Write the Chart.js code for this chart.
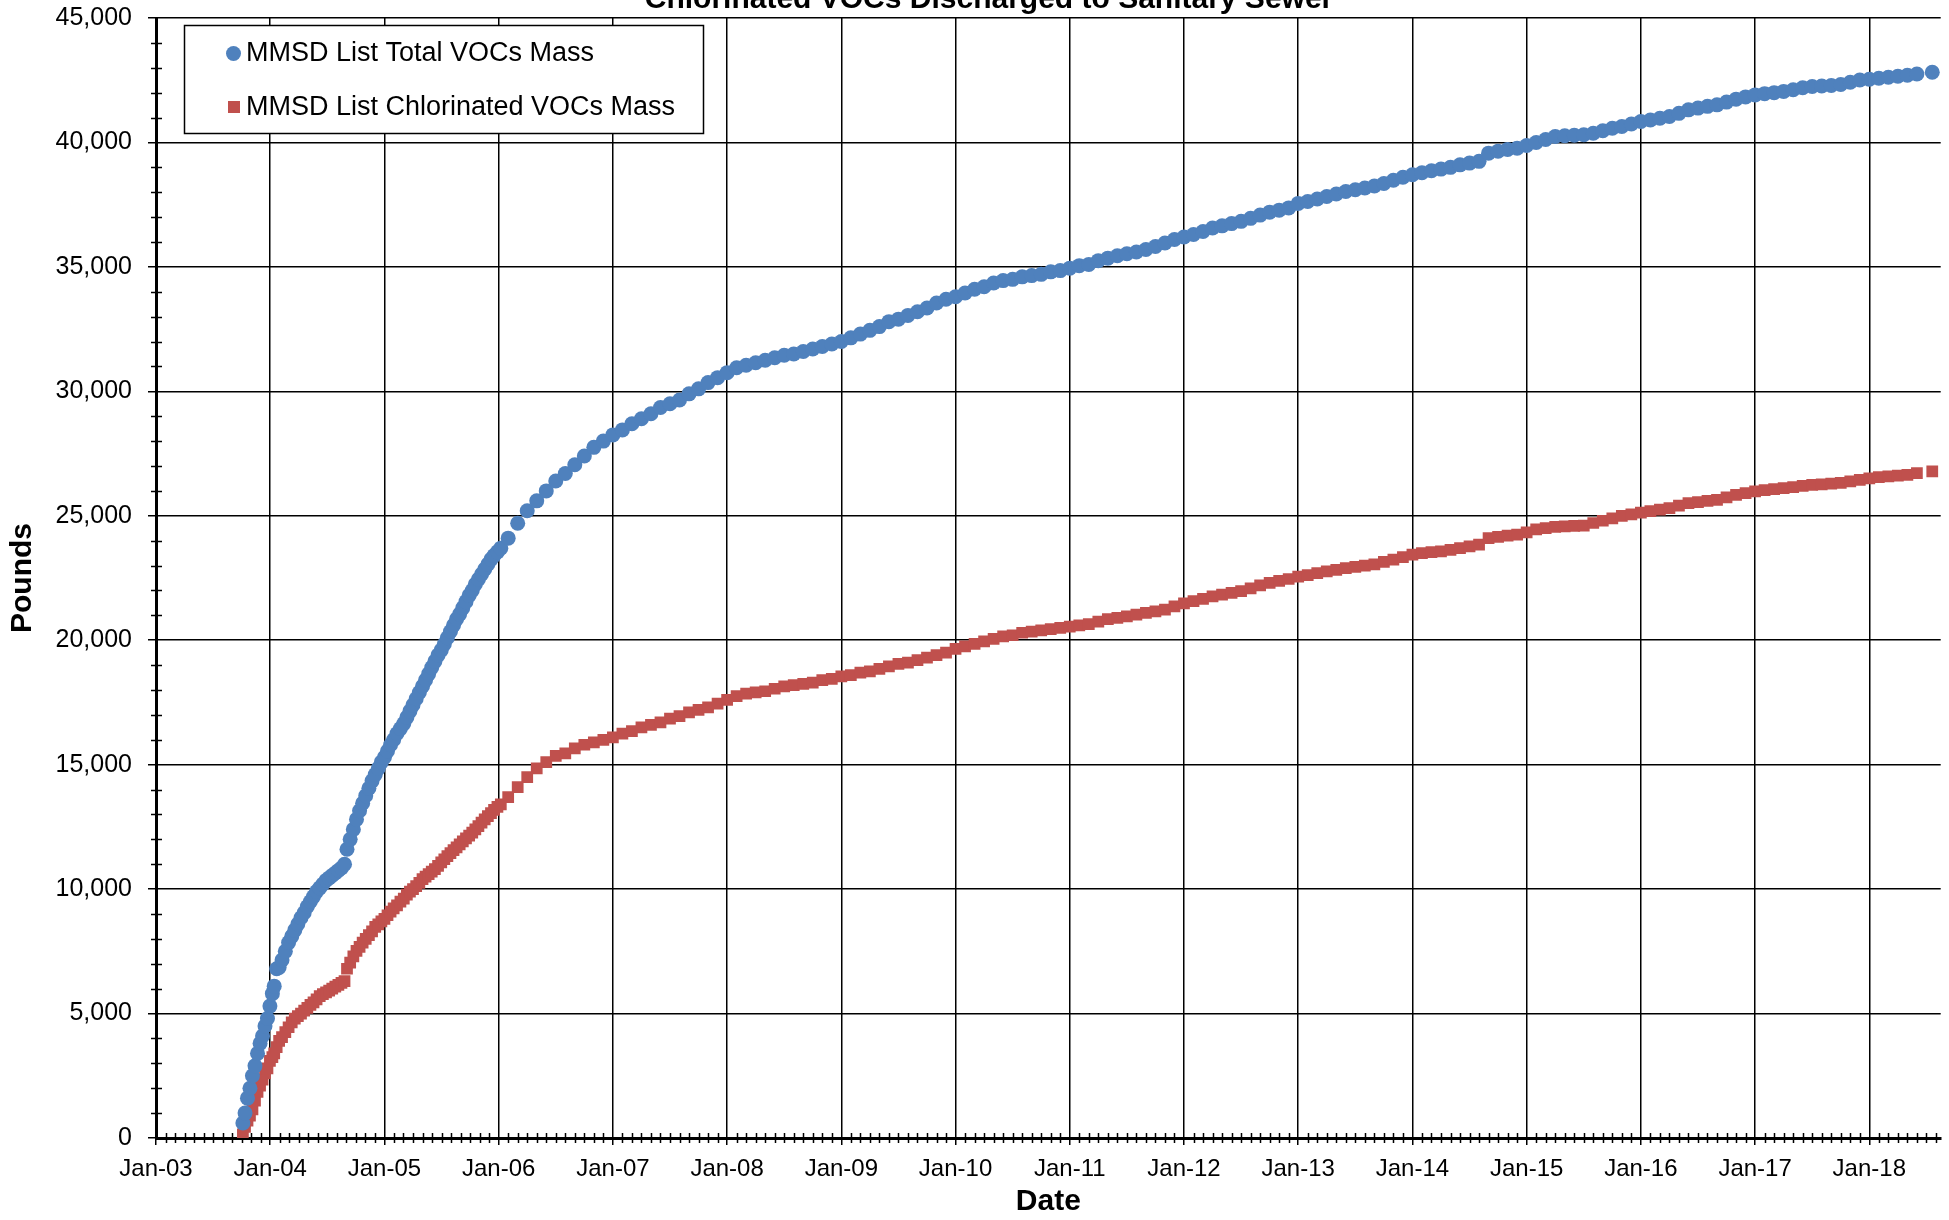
<!DOCTYPE html>
<html lang="en">
  <head>
    <meta charset="UTF-8" />
    <title>Chlorinated VOCs Discharged to Sanitary Sewer</title>
    <script src="https://cdn.jsdelivr.net/npm/chart.js"></script>
    <style>
      html, body { margin: 0; padding: 0; background: #ffffff; }
      #wrap { width: 1949px; height: 1220px; position: relative; }
    </style>
  </head>
  <body>
    <div id="wrap"><canvas id="vocChart"></canvas></div>

    <script>
      // sample dates (dense early, monthly later)
      const sampleDates = [
        "2003-10-05", "2003-10-12", "2003-10-20", "2003-10-28", "2003-11-05", "2003-11-13", "2003-11-21", "2003-11-29", "2003-12-07", "2003-12-15", "2003-12-23", "2003-12-31",
        "2004-01-08", "2004-01-14", "2004-01-22", "2004-01-30", "2004-02-08", "2004-02-18", "2004-02-28", "2004-03-09", "2004-03-19", "2004-03-29",
        "2004-04-08", "2004-04-18", "2004-04-28", "2004-05-08", "2004-05-18", "2004-05-28", "2004-06-07", "2004-06-17", "2004-06-27", "2004-07-07",
        "2004-07-17", "2004-07-27", "2004-08-06", "2004-08-16", "2004-08-26", "2004-09-03", "2004-09-13", "2004-09-23", "2004-10-03", "2004-10-13",
        "2004-10-23", "2004-11-02", "2004-11-12", "2004-11-22", "2004-12-02", "2004-12-12", "2004-12-22",
        "2005-01-01", "2005-01-11", "2005-01-21", "2005-01-31", "2005-02-10", "2005-02-20", "2005-03-02", "2005-03-12", "2005-03-22", "2005-04-01",
        "2005-04-11", "2005-04-21", "2005-05-01", "2005-05-11", "2005-05-21", "2005-05-31", "2005-06-10", "2005-06-20", "2005-06-30", "2005-07-10",
        "2005-07-20", "2005-07-30", "2005-08-09", "2005-08-19", "2005-08-29", "2005-09-08", "2005-09-18", "2005-09-28", "2005-10-08", "2005-10-18",
        "2005-10-28", "2005-11-07", "2005-11-17", "2005-11-27", "2005-12-07", "2005-12-17", "2005-12-28",
        "2006-01-08", "2006-02-01", "2006-03-01", "2006-04-01", "2006-05-01", "2006-06-01", "2006-07-01", "2006-08-01", "2006-09-01", "2006-10-01", "2006-11-01", "2006-12-01",
        "2007-01-01", "2007-02-01", "2007-03-01", "2007-04-01", "2007-05-01", "2007-06-01", "2007-07-01", "2007-08-01", "2007-09-01", "2007-10-01", "2007-11-01", "2007-12-01",
        "2008-01-01", "2008-02-01", "2008-03-01", "2008-04-01", "2008-05-01", "2008-06-01", "2008-07-01", "2008-08-01", "2008-09-01", "2008-10-01", "2008-11-01", "2008-12-01",
        "2009-01-01", "2009-02-01", "2009-03-01", "2009-04-01", "2009-05-01", "2009-06-01", "2009-07-01", "2009-08-01", "2009-09-01", "2009-10-01", "2009-11-01", "2009-12-01",
        "2010-01-01", "2010-02-01", "2010-03-01", "2010-04-01", "2010-05-01", "2010-06-01", "2010-07-01", "2010-08-01", "2010-09-01", "2010-10-01", "2010-11-01", "2010-12-01",
        "2011-01-01", "2011-02-01", "2011-03-01", "2011-04-01", "2011-05-01", "2011-06-01", "2011-07-01", "2011-08-01", "2011-09-01", "2011-10-01", "2011-11-01", "2011-12-01",
        "2012-01-01", "2012-02-01", "2012-03-01", "2012-04-01", "2012-05-01", "2012-06-01", "2012-07-01", "2012-08-01", "2012-09-01", "2012-10-01", "2012-11-01", "2012-12-01",
        "2013-01-01", "2013-02-01", "2013-03-01", "2013-04-01", "2013-05-01", "2013-06-01", "2013-07-01", "2013-08-01", "2013-09-01", "2013-10-01", "2013-11-01", "2013-12-01",
        "2014-01-01", "2014-02-01", "2014-03-01", "2014-04-01", "2014-05-01", "2014-06-01", "2014-07-01", "2014-08-01", "2014-09-01", "2014-10-01", "2014-11-01", "2014-12-01",
        "2015-01-01", "2015-02-01", "2015-03-01", "2015-04-01", "2015-05-01", "2015-06-01", "2015-07-01", "2015-08-01", "2015-09-01", "2015-10-01", "2015-11-01", "2015-12-01",
        "2016-01-01", "2016-02-01", "2016-03-01", "2016-04-01", "2016-05-01", "2016-06-01", "2016-07-01", "2016-08-01", "2016-09-01", "2016-10-01", "2016-11-01", "2016-12-01",
        "2017-01-01", "2017-02-01", "2017-03-01", "2017-04-01", "2017-05-01", "2017-06-01", "2017-07-01", "2017-08-01", "2017-09-01", "2017-10-01", "2017-11-01", "2017-12-01",
        "2018-01-01", "2018-02-01", "2018-03-01", "2018-04-01", "2018-05-01", "2018-06-01", "2018-07-20"
      ];

      // cumulative pounds, MMSD list total VOCs
      const totalVOCs = [
        600, 1000, 1600, 2000, 2500, 2900, 3400, 3800, 4100, 4500, 4800, 5300,
        5800, 6100, 6800, 6850, 7150, 7500, 7850, 8100, 8350, 8600,
        8850, 9050, 9300, 9500, 9700, 9900, 10050, 10200, 10350, 10450,
        10550, 10650, 10750, 10850, 11000, 11600, 12000, 12400, 12800, 13150,
        13450, 13750, 14050, 14350, 14600, 14850, 15100,
        15300, 15550, 15800, 16000, 16250, 16450, 16650, 16900, 17150, 17400,
        17650, 17900, 18150, 18400, 18650, 18900, 19150, 19400, 19600, 19850,
        20100, 20350, 20600, 20850, 21050, 21300, 21550, 21800, 22000, 22250,
        22450, 22650, 22850, 23050, 23250, 23400, 23550,
        23700, 24100, 24700, 25200, 25600, 26000, 26400, 26700, 27050, 27400, 27750, 28000,
        28250, 28450, 28700, 28900, 29100, 29350, 29500, 29650, 29900, 30100, 30350, 30550,
        30750, 30950, 31050, 31150, 31250, 31350, 31450, 31500, 31600, 31700, 31800, 31900,
        32000, 32150, 32300, 32450, 32600, 32800, 32900, 33050, 33200, 33350, 33550, 33700,
        33800, 33950, 34100, 34200, 34350, 34450, 34500, 34600, 34650, 34700, 34800, 34850,
        34950, 35050, 35100, 35250, 35350, 35450, 35530, 35600, 35700, 35820, 35960, 36100,
        36200, 36300, 36420, 36560, 36650, 36740, 36830, 36950, 37080, 37200, 37280, 37370,
        37550, 37630, 37730, 37830, 37930, 38030, 38100, 38170, 38250, 38350, 38480, 38600,
        38700, 38780, 38860, 38930, 39000, 39100, 39170, 39240, 39570, 39650, 39720, 39770,
        39880, 40000, 40120, 40240, 40270, 40290, 40310, 40370, 40470, 40570, 40640, 40740,
        40840, 40900, 40970, 41040, 41170, 41310, 41380, 41450, 41510, 41620, 41740, 41830,
        41910, 41960, 42000, 42050, 42120, 42200, 42250, 42270, 42290, 42330, 42420, 42510,
        42540, 42580, 42620, 42660, 42700, 42750, 42820
      ];

      // cumulative pounds, MMSD list chlorinated VOCs
      const chlorinatedVOCs = [
        150, 450, 700, 900, 1150, 1500, 1850, 2100, 2350, 2600, 2800, 3100,
        3250, 3400, 3650, 3900, 4050, 4250, 4450, 4650, 4800, 4900,
        5000, 5120, 5230, 5350, 5450, 5570, 5700, 5780, 5850, 5920,
        6000, 6080, 6150, 6230, 6300, 6800, 7050, 7300, 7520, 7680,
        7850, 8000, 8150, 8300, 8480, 8580, 8700,
        8800, 8950, 9100, 9230, 9350, 9500, 9620, 9780, 9900, 10000,
        10120, 10250, 10400, 10500, 10600, 10700, 10800, 10930, 11070, 11200,
        11330, 11450, 11570, 11680, 11800, 11920, 12040, 12150, 12270, 12400,
        12530, 12670, 12800, 12930, 13050, 13180, 13300,
        13400, 13700, 14100, 14500, 14850, 15100, 15350, 15450, 15650, 15800, 15900, 16000,
        16100, 16250, 16350, 16500, 16600, 16700, 16850, 16950, 17100, 17200, 17300, 17450,
        17600, 17750, 17850, 17900, 17950, 18050, 18150, 18200, 18250, 18300, 18400, 18450,
        18550, 18600, 18700, 18750, 18850, 18950, 19050, 19100, 19200, 19300, 19400, 19500,
        19650, 19750, 19850, 19950, 20050, 20150, 20200, 20300, 20350, 20400, 20450, 20500,
        20550, 20600, 20650, 20750, 20850, 20900, 20960, 21030, 21100, 21160, 21230, 21360,
        21480, 21570, 21660, 21760, 21830, 21900, 21970, 22080, 22200, 22300, 22380, 22460,
        22560, 22620, 22700, 22770, 22830, 22900, 22950, 23000, 23050, 23150, 23240, 23340,
        23440, 23500, 23540, 23570, 23630, 23700, 23770, 23840, 24100, 24150, 24200, 24240,
        24330, 24450, 24500, 24550, 24570, 24590, 24600, 24710, 24800, 24900, 25000, 25060,
        25130, 25190, 25250, 25310, 25410, 25510, 25550, 25600, 25640, 25740, 25840, 25910,
        25980, 26030, 26070, 26110, 26150, 26200, 26240, 26260, 26290, 26320, 26380, 26440,
        26500, 26550, 26580, 26610, 26640, 26710, 26780
      ];

      const seriesNames = ["MMSD List Total VOCs Mass", "MMSD List Chlorinated VOCs Mass"];
      const chartTitle = "Chlorinated VOCs Discharged to Sanitary Sewer";
      const startYear = 2003;
      const xMaxMonths = 187.5;
      const yearTicks = [0, 12, 24, 36, 48, 60, 72, 84, 96, 108, 120, 132, 144, 156, 168, 180];

      const BLUE = "#4f81bd";
      const RED = "#c0504d";
      const FONT = "'Liberation Sans', Arial, sans-serif";

      // "YYYY-MM-DD" -> months since Jan 2003
      function toMonths(s) {
        const [y, m, d] = s.split("-").map(Number);
        const dim = new Date(y, m, 0).getDate();
        return (y - startYear) * 12 + (m - 1) + (d - 1) / dim;
      }

      const totalPts = sampleDates.map((d, i) => ({ x: toMonths(d), y: totalVOCs[i] }));
      const chlorPts = sampleDates.map((d, i) => ({ x: toMonths(d), y: chlorinatedVOCs[i] }));

      // title (partly cut off at the top), minor ticks and the boxed legend
      const decorations = {
        id: "decorations",
        beforeDatasetsDraw(chart) {
          const { ctx, scales: { x, y } } = chart;
          ctx.save();
          ctx.strokeStyle = "#000";
          ctx.lineWidth = 1.5;
          ctx.beginPath();
          for (let m = 1; m < xMaxMonths; m++) {
            if (m % 12 === 0) continue;
            const px = Math.round(x.getPixelForValue(m)) + 0.5;
            ctx.moveTo(px, y.bottom - 5);
            ctx.lineTo(px, y.bottom + 5);
          }
          for (let v = 1000; v < 45000; v += 1000) {
            if (v % 5000 === 0) continue;
            const py = Math.round(y.getPixelForValue(v)) + 0.5;
            ctx.moveTo(x.left - 5, py);
            ctx.lineTo(x.left + 6, py);
          }
          ctx.stroke();
          ctx.restore();
        },
        afterDraw(chart) {
          const { ctx } = chart;
          ctx.save();
          ctx.fillStyle = "#000";
          ctx.font = "bold 30px " + FONT;
          ctx.textAlign = "center";
          ctx.textBaseline = "alphabetic";
          ctx.fillText(chartTitle, 989, 8);

          // legend box
          ctx.fillStyle = "#fff";
          ctx.fillRect(184, 25, 519, 108);
          ctx.strokeStyle = "#000";
          ctx.lineWidth = 1.5;
          ctx.strokeRect(184.5, 25.5, 519, 108);

          ctx.fillStyle = BLUE;
          ctx.beginPath();
          ctx.arc(233.5, 53.5, 7.5, 0, Math.PI * 2);
          ctx.fill();
          ctx.fillStyle = RED;
          ctx.fillRect(228, 101, 12, 12);

          ctx.fillStyle = "#000";
          ctx.font = "27px " + FONT;
          ctx.textAlign = "left";
          ctx.textBaseline = "middle";
          ctx.fillText(seriesNames[0], 246, 54);
          ctx.fillText(seriesNames[1], 246, 108);
          ctx.restore();
        },
      };

      const ctx = document.getElementById("vocChart").getContext("2d");
      const vocChart = new Chart(ctx, {
        type: "scatter",
        data: {
          datasets: [
            {
              label: seriesNames[0],
              data: totalPts,
              pointStyle: "circle",
              pointRadius: 7.5,
              pointBackgroundColor: BLUE,
              pointBorderColor: BLUE,
              pointBorderWidth: 0,
              showLine: false,
            },
            {
              label: seriesNames[1],
              data: chlorPts,
              pointStyle: "rect",
              pointRadius: 8.3,
              pointBackgroundColor: RED,
              pointBorderColor: RED,
              pointBorderWidth: 0,
              showLine: false,
            },
          ],
        },
        options: {
          responsive: true,
          maintainAspectRatio: false,
          animation: false,
          events: [],
          layout: { padding: { left: 0, top: 18, right: 6, bottom: 0 } },
          plugins: {
            legend: { display: false },
            title: { display: false },
            tooltip: { enabled: false },
          },
          scales: {
            x: {
              type: "linear",
              min: 0,
              max: xMaxMonths,
              afterBuildTicks(scale) {
                scale.ticks = yearTicks.map((v) => ({ value: v }));
              },
              afterFit(scale) {
                scale.height = 82;
                scale.paddingLeft = 0;
                scale.paddingRight = 0;
              },
              grid: {
                color: "#000",
                lineWidth: 1.5,
                tickLength: 7,
                tickColor: "#000",
              },
              border: { color: "#000", width: 3 },
              ticks: {
                autoSkip: false,
                maxRotation: 0,
                padding: 10,
                color: "#000",
                font: { family: FONT, size: 24 },
                callback: (v) => "Jan-" + String((startYear + v / 12) % 100).padStart(2, "0"),
              },
              title: {
                display: true,
                text: "Date",
                color: "#000",
                padding: { top: 0, bottom: 0 },
                font: { family: FONT, size: 30, weight: "bold" },
              },
            },
            y: {
              min: 0,
              max: 45000,
              afterFit(scale) {
                scale.width = 156;
                scale.paddingTop = 0;
                scale.paddingBottom = 0;
              },
              grid: {
                color: "#000",
                lineWidth: 1.5,
                tickLength: 8,
                tickColor: "#000",
              },
              border: { color: "#000", width: 3 },
              ticks: {
                stepSize: 5000,
                padding: 16,
                color: "#000",
                font: { family: FONT, size: 25 },
                callback: (v) => v.toLocaleString("en-US"),
              },
              title: {
                display: true,
                text: "Pounds",
                color: "#000",
                padding: { top: 5, bottom: 0 },
                font: { family: FONT, size: 30, weight: "bold" },
              },
            },
          },
        },
        plugins: [decorations],
      });
    </script>
  </body>
</html>
